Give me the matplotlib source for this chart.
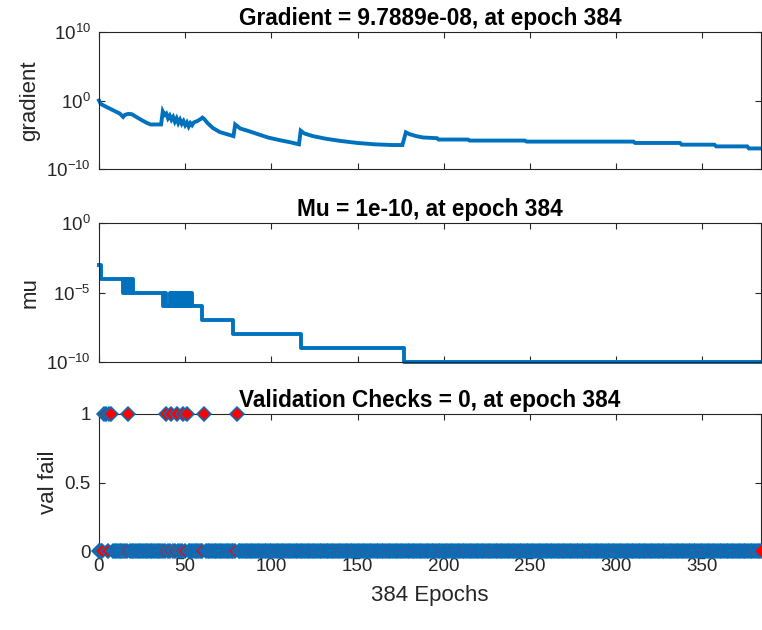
import numpy as np
import matplotlib
matplotlib.use("Agg")
import matplotlib.pyplot as plt

plt.rcParams['font.family'] = ['Liberation Sans', 'DejaVu Sans']

# ---------------- data ----------------
n_epochs = 384
# gradient: (epoch, log10 gradient) breakpoints
grad_epochs = [0, 1, 4, 8, 12, 14, 15, 17, 19, 21, 23, 25, 28, 30, 36,
               37, 38, 39, 40, 41, 42, 43, 44, 45, 46, 47, 48, 49, 50, 51, 52, 53, 54, 55,
               57, 59, 60, 61, 63, 66, 70, 74, 78, 79, 80, 82, 86, 92, 98, 105, 111, 116,
               117, 119, 124, 132, 140, 150, 160, 170, 176, 178, 180, 184, 188, 196, 197,
               214, 215, 247, 248, 310, 311, 337, 338, 357, 358, 376, 377, 384]
grad_log10 = [0.0, -0.5, -0.9, -1.4, -1.9, -2.4, -2.1, -1.95, -2.0, -2.3, -2.6, -2.9, -3.3, -3.5, -3.5,
              -1.6, -2.1, -1.9, -2.6, -2.2, -2.8, -2.4, -3.1, -2.6, -3.3, -2.8, -3.4, -3.0, -3.6, -3.2, -3.8, -3.3, -3.6, -3.2,
              -3.0, -2.7, -2.5, -2.7, -3.3, -4.0, -4.6, -4.9, -5.2, -3.5, -3.7, -4.1, -4.4, -4.9, -5.4, -5.8, -6.1, -6.4,
              -4.4, -4.8, -5.2, -5.6, -5.9, -6.2, -6.4, -6.5, -6.5, -4.65, -4.9, -5.2, -5.4, -5.5, -5.7,
              -5.7, -5.85, -5.85, -6.0, -6.0, -6.2, -6.2, -6.45, -6.45, -6.7, -6.7, -7.0, -7.0]

# mu: step values (epoch where level starts, log10 mu)
mu_epochs = [0, 1, 14, 15, 16, 17, 18, 19, 20, 37, 38, 39, 40, 41, 42, 43, 44, 45, 46,
             47, 48, 49, 50, 51, 52, 53, 54, 55, 60, 78, 117, 177, 384]
mu_log10 = [-3, -4, -5, -4, -5, -4, -5, -4, -5, -6, -5, -6, -6, -5, -6, -5, -6, -5, -6,
            -5, -6, -5, -6, -5, -6, -5, -6, -6, -7, -8, -9, -10, -10]

# validation checks: epochs where val fail = 1 (all others are 0)
fail_epochs = [3, 4, 6, 7, 17, 39, 42, 45, 49, 51, 61, 80]

titles = ["Gradient = 9.7889e-08, at epoch 384",
          "Mu = 1e-10, at epoch 384",
          "Validation Checks = 0, at epoch 384"]
ylabels = ["gradient", "mu", "val fail"]
xlabel = "384 Epochs"
xticks = [0, 50, 100, 150, 200, 250, 300, 350]

# ---------------- style ----------------
blue = (0, 0.447, 0.741)
red = (1, 0, 0)
axcol = '#262626'
TICK_FS = 13.5
LAB_FS = 16
TITLE_FS = 16.3

fig = plt.figure(figsize=(7.62, 6.30), dpi=100)
W, H = 762.0, 630.0
left, right = 99 / W, 761 / W
rects = [(32, 169), (223, 362), (414, 551)]
axes = []
for (t, b) in rects:
    ax = fig.add_axes([left, 1 - b / H, right - left, (b - t) / H])
    axes.append(ax)

def style(ax):
    for s in ax.spines.values():
        s.set_color(axcol)
        s.set_linewidth(0.8)
    ax.tick_params(which='major', direction='in', top=True, right=True,
                   length=4, width=0.8, color=axcol, labelcolor=axcol,
                   labelsize=TICK_FS, pad=6)
    ax.tick_params(axis='x', pad=5)
    ax.tick_params(which='minor', left=False, right=False, bottom=False, top=False)
    ax.set_xlim(0, n_epochs)
    ax.set_xticks(xticks)

# gradient
ax = axes[0]
ax.semilogy(grad_epochs, np.power(10.0, grad_log10), color=blue, lw=2.8,
            solid_joinstyle='miter', clip_on=False)
ax.set_ylim(1e-10, 1e10)
ax.set_yticks([1e-10, 1e0, 1e10])
style(ax)
ax.set_xticklabels([])

# mu
ax = axes[1]
ax.semilogy(mu_epochs, np.power(10.0, mu_log10), color=blue, lw=2.8,
            drawstyle='steps-post', clip_on=False)
ax.set_ylim(1e-10, 1e0)
ax.set_yticks([1e-10, 1e-5, 1e0])
style(ax)
ax.set_xticklabels([])

# validation checks
ax = axes[2]
epochs = np.arange(0, n_epochs + 1)
valfail = np.zeros(len(epochs))
valfail[fail_epochs] = 1
ax.plot(epochs, valfail, linestyle='none', marker='D', markersize=7,
        markerfacecolor=red, markeredgecolor=blue, markeredgewidth=1.1,
        clip_on=False, zorder=5)
ax.set_ylim(0, 1)
ax.set_yticks([0, 0.5, 1])
ax.set_yticklabels(['0', '0.5', '1'])
style(ax)
ax.set_xticklabels([str(v) for v in xticks])
ax.set_xlabel(xlabel, fontsize=LAB_FS, color=axcol, labelpad=7)

for ax, t, yl in zip(axes, titles, ylabels):
    ax.set_title(t, fontsize=TITLE_FS, fontweight='bold', color='black', pad=5)
    ax.set_ylabel(yl, fontsize=LAB_FS, color=axcol, labelpad=4)

fig.savefig('out.png', dpi=100)
